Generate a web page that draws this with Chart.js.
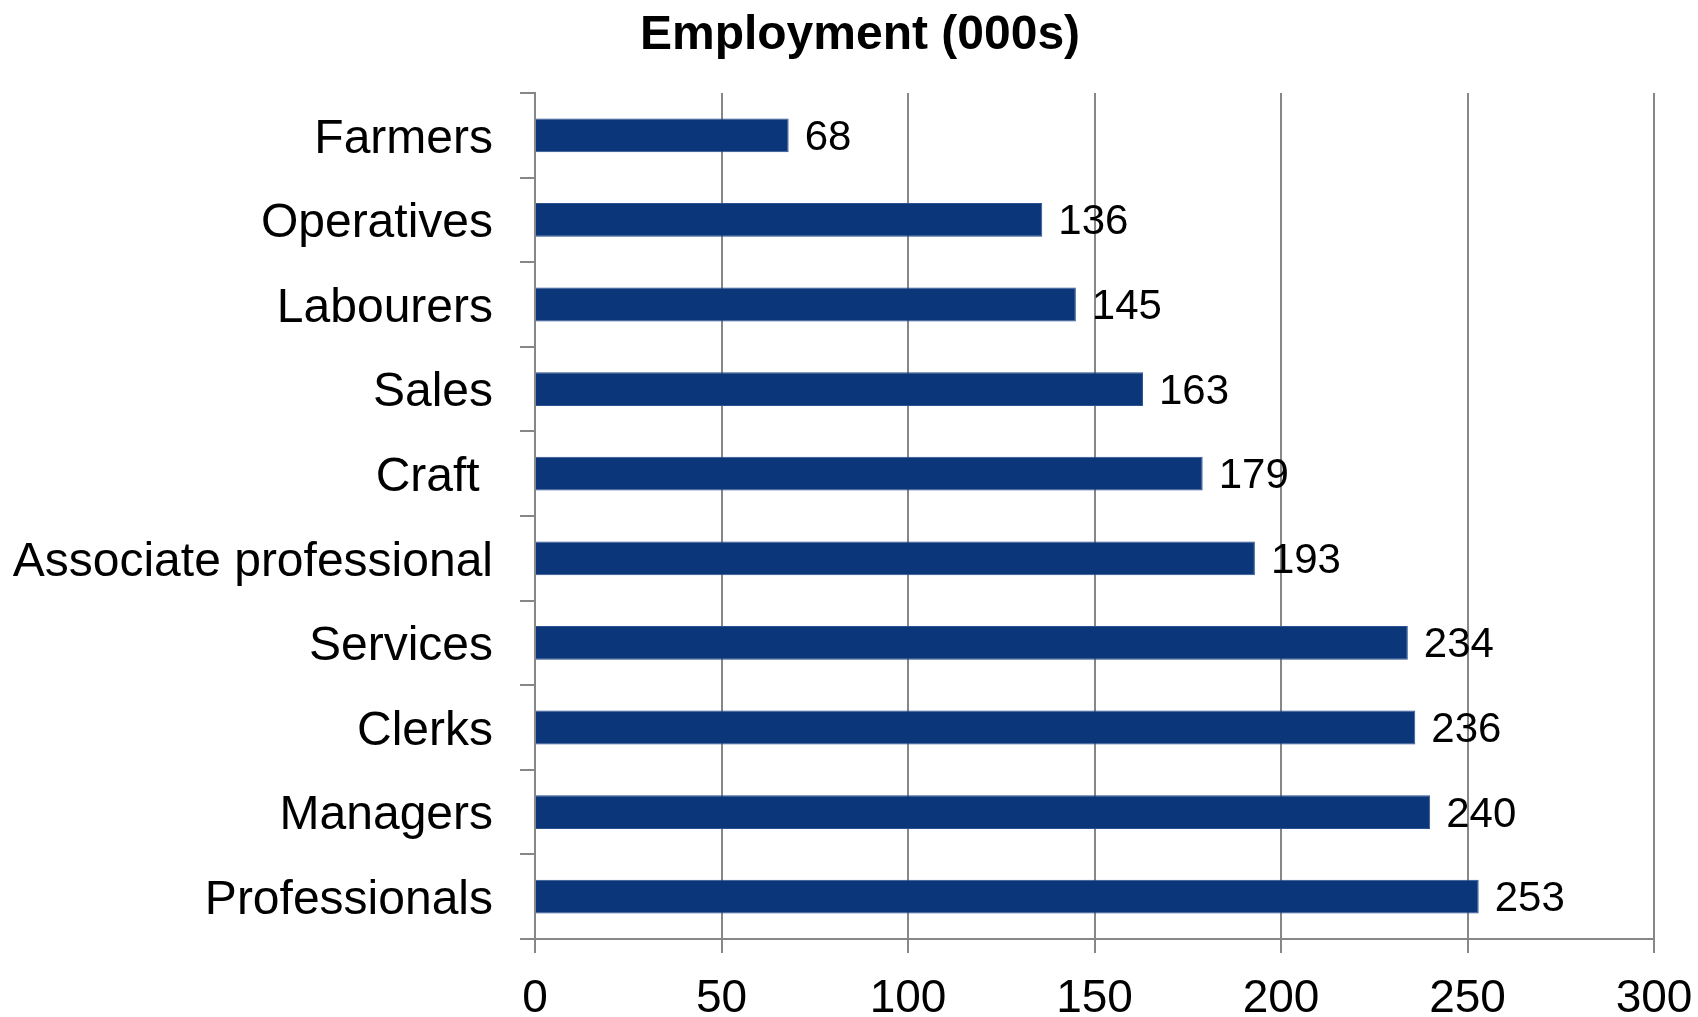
<!DOCTYPE html>
<html lang="en">
<head>
    <meta charset="UTF-8">
    <title>Employment (000s)</title>
    <script src="https://cdn.jsdelivr.net/npm/chart.js"></script>
    <style>
        html, body {
            margin: 0;
            padding: 0;
            background: #ffffff;
        }
        .wrap {
            width: 1698px;
            height: 1017px;
        }
    </style>
</head>
<body>
    <div class="wrap">
        <canvas id="employmentChart" width="1698" height="1017"></canvas>
    </div>

    <script>
        // Data
        const categories = ['Farmers', 'Operatives', 'Labourers', 'Sales', 'Craft ', 'Associate professional', 'Services', 'Clerks', 'Managers', 'Professionals'];
        const employment = [68, 136, 145, 163, 179, 193, 234, 236, 240, 253];
        const xTicks = [0, 50, 100, 150, 200, 250, 300];
        const chartTitle = 'Employment (000s)';

        const FONT = '"Liberation Sans", Arial, sans-serif';
        const GRID = '#878787';

        // Title sits a little right of the canvas centre in the original
        const titlePlugin = {
            id: 'titlePlugin',
            afterDraw(chart) {
                const ctx = chart.ctx;
                ctx.save();
                ctx.font = 'bold 48px ' + FONT;
                ctx.fillStyle = '#000000';
                ctx.textAlign = 'center';
                ctx.textBaseline = 'middle';
                ctx.fillText(chartTitle, 860, 36);
                ctx.restore();
            }
        };

        // Value labels to the right of each bar
        const valueLabels = {
            id: 'valueLabels',
            afterDatasetsDraw(chart) {
                const ctx = chart.ctx;
                const meta = chart.getDatasetMeta(0);
                ctx.save();
                ctx.font = '42px ' + FONT;
                ctx.fillStyle = '#000000';
                ctx.textAlign = 'left';
                ctx.textBaseline = 'middle';
                meta.data.forEach((bar, i) => {
                    ctx.fillText(String(employment[i]), bar.x + 16, bar.y + 3);
                });
                ctx.restore();
            }
        };

        Chart.defaults.font.family = FONT;
        Chart.defaults.color = '#000000';

        new Chart(document.getElementById('employmentChart').getContext('2d'), {
            type: 'bar',
            data: {
                labels: categories,
                datasets: [{
                    label: chartTitle,
                    data: employment,
                    backgroundColor: '#0b3679',
                    borderColor: '#2c5290',
                    borderWidth: 1,
                    categoryPercentage: 1,
                    barPercentage: 0.40
                }]
            },
            options: {
                indexAxis: 'y',
                responsive: false,
                animation: false,
                devicePixelRatio: 1,
                layout: {
                    padding: { left: 0, right: 0, top: 93, bottom: 0 }
                },
                plugins: {
                    legend: { display: false },
                    tooltip: { enabled: false },
                    title: { display: false }
                },
                scales: {
                    x: {
                        min: 0,
                        max: 300,
                        afterBuildTicks(scale) {
                            scale.ticks = xTicks.map(v => ({ value: v }));
                        },
                        afterFit(scale) {
                            scale.height = 78;
                            scale.paddingLeft = 0;
                            scale.paddingRight = 44;
                        },
                        grid: {
                            color: GRID,
                            lineWidth: 2,
                            drawTicks: true,
                            tickLength: 14,
                            tickColor: GRID
                        },
                        border: { color: GRID, width: 2 },
                        ticks: {
                            font: { size: 46, family: FONT },
                            color: '#000000',
                            padding: 19,
                            maxRotation: 0
                        }
                    },
                    y: {
                        afterFit(scale) {
                            scale.width = 535;
                        },
                        grid: {
                            offset: true,
                            drawOnChartArea: false,
                            drawTicks: true,
                            tickLength: 15,
                            color: GRID,
                            tickColor: GRID,
                            lineWidth: 2
                        },
                        border: { color: GRID, width: 2 },
                        ticks: {
                            font: { size: 48, family: FONT },
                            color: '#000000',
                            padding: 27,
                            labelOffset: 4
                        }
                    }
                }
            },
            plugins: [valueLabels, titlePlugin]
        });
    </script>
</body>
</html>
